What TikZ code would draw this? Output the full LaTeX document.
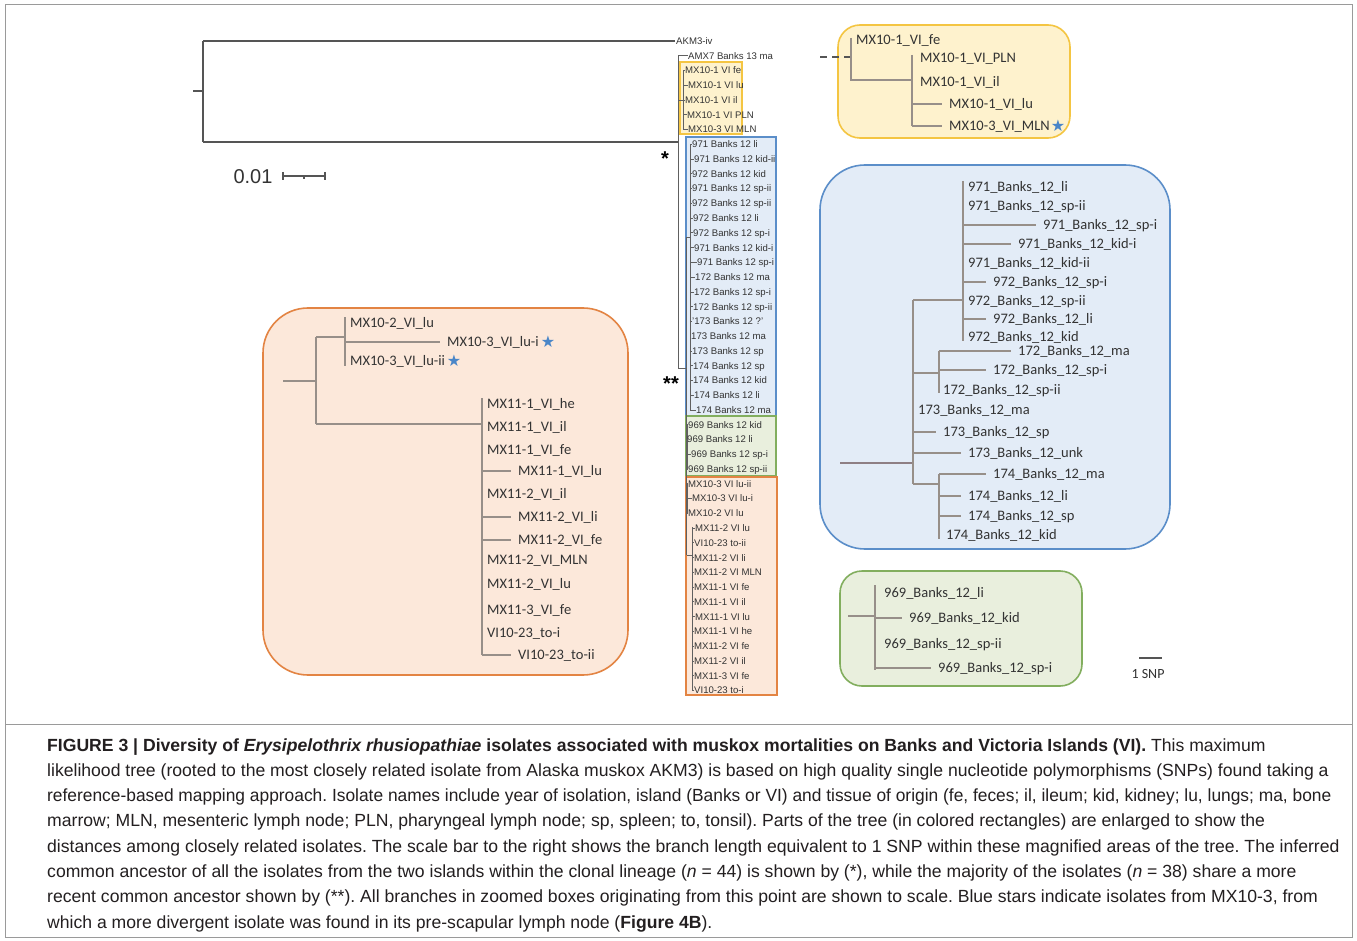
\documentclass[tikz,border=0pt]{standalone}
\usepackage{fontspec}
\setmainfont{Liberation Sans}
\newfontfamily\calib{Carlito}
\newfontfamily\djv{DejaVu Sans}
\definecolor{labC}{HTML}{333333}
\definecolor{capC}{HTML}{231F20}
\definecolor{mainC}{HTML}{555555}
\definecolor{cenC}{HTML}{606060}
\definecolor{zC}{HTML}{978F89}
\definecolor{rootC}{HTML}{8E7F84}
\definecolor{starC}{HTML}{4A86C8}
\definecolor{yelF}{HTML}{FEF2CD}
\definecolor{yelD}{HTML}{F4C542}
\definecolor{bluF}{HTML}{E3ECF7}
\definecolor{bluD}{HTML}{5B8EC9}
\definecolor{orF}{HTML}{FCE8DA}
\definecolor{orD}{HTML}{E38443}
\definecolor{grF}{HTML}{E9EFDD}
\definecolor{grD}{HTML}{82AE5E}
\definecolor{frameC}{HTML}{9A9A9A}
\frenchspacing
\begin{document}
\begin{tikzpicture}[x=1pt,y=-1pt,
  mtree/.style={draw=mainC, line width=1.1pt},
  ctree/.style={draw=cenC, line width=0.8pt},
  ztree/.style={draw=zC, line width=1.3pt},
  zlab/.style={font=\calib\fontsize{14.5}{14.5}\selectfont, text=labC, anchor=base west, inner sep=0pt, yshift=-4.6pt},
  clab/.style={font=\fontsize{9.6}{9.6}\selectfont, text=labC, anchor=base west, inner sep=0pt, yshift=-3.4pt},
  starn/.style={font=\djv\fontsize{16}{16}\selectfont, text=starC, inner sep=0pt},
  caplin/.style={font=\fontsize{17.6}{17.6}\selectfont, text=capC, anchor=base west, inner sep=0pt},
  zbox/.style={rounded corners=#1, line width=1.6pt},
  cbox/.style={line width=1.3pt}
]
\useasboundingbox (0,0) rectangle (1357,941);
\fill[white] (0,0) rectangle (1357,941);
\draw[frameC, line width=1pt] (5,5) rectangle (1352,937);

% ---------------- main tree ----------------
\coordinate (r0) at (193,91);
\coordinate (r) at (203,91);
\coordinate (rA) at (203,41);
\coordinate (rB) at (203,142);
\coordinate (akm) at (675,41);
\coordinate (st) at (678,142);
\draw[mtree] (r0) -- (r);
\draw[mtree] (rA) -- (rB);
\draw[mtree] (rA) -- (akm);
\draw[mtree] (rB) -- (st);
\node[clab] (c0) at (676,41) {AKM3-iv};
\node[font=\bfseries\fontsize{20}{20}\selectfont, anchor=base, inner sep=0pt] (ast1) at (665,166) {*};
\node[font=\bfseries\fontsize{20}{20}\selectfont, anchor=base, inner sep=0pt] (ast2) at (671,390) {**};

% scale bar 0.01
\node[font=\fontsize{20}{20}\selectfont, anchor=base, inner sep=0pt, text=labC] (s001) at (253,183.5) {0.01};
\coordinate (sbL) at (283,176);
\coordinate (sbR) at (325,176);
\coordinate (sbM) at (304,176);
\draw[mtree] (sbL) -- (sbR);
\draw[mtree] ([yshift=4pt]sbL) -- ([yshift=-4pt]sbL);
\draw[mtree] ([yshift=4pt]sbR) -- ([yshift=-4pt]sbR);
\draw[mtree] (sbM) -- ([yshift=-3pt]sbM);

% ---------------- central column boxes ----------------
\draw[cbox, fill=yelF, draw=yelD] (680,62) rectangle (742,134);
\draw[cbox, fill=bluF, draw=bluD] (686,137) rectangle (776,416);
\draw[cbox, fill=grF, draw=grD] (686,416) rectangle (776,476);
\draw[cbox, fill=orF, draw=orD] (686,477) rectangle (777,695);

% central tree internal lines
\coordinate (cT) at (678,56);
\coordinate (cS) at (678,368);
\coordinate (cY) at (678,100);
\coordinate (cY2) at (683,100);
\coordinate (cYt) at (683,70.5);
\coordinate (cYb) at (683,129.5);
\coordinate (cSS) at (686.5,368);
\coordinate (cSt) at (686.5,237);
\coordinate (cSb) at (686.5,555);
\coordinate (cBj) at (690,237);
\coordinate (cBt) at (690,144);
\coordinate (cBb) at (690,410);
\coordinate (cGt) at (687,424);
\coordinate (cGb) at (687,469);
\coordinate (cOt) at (687,483);
\coordinate (cOb) at (687,513);
\coordinate (cMj) at (692,555);
\coordinate (cMt) at (692,527);
\coordinate (cMb) at (692,690);
\draw[ctree] (cT) -- (cS);
\draw[ctree] (cY) -- (cY2);
\draw[ctree] (cYt) -- (cYb);
\draw[ctree] (cS) -- (cSS);
\draw[ctree] (cSt) -- (cSb);
\draw[ctree] (cSt) -- (cBj);
\draw[ctree] (cBt) -- (cBb);
\draw[ctree] (cGt) -- (cGb);
\draw[ctree] (cOt) -- (cOb);
\draw[ctree] (cSb) -- (cMj);
\draw[ctree] (cMt) -- (cMb);

\foreach \i/\t/\vx/\lx in {
  1/AMX7 Banks 13 ma/678/688,
  2/MX10-1 VI fe/683/685, 3/MX10-1 VI lu/683/688, 4/MX10-1 VI il/683/685,
  5/MX10-1 VI PLN/683/687, 6/MX10-3 VI MLN/683/688,
  7/971 Banks 12 li/690/692, 8/971 Banks 12 kid-ii/690/694, 9/972 Banks 12 kid/690/692,
  10/971 Banks 12 sp-ii/690/692, 11/972 Banks 12 sp-ii/690/692, 12/972 Banks 12 li/690/693,
  13/972 Banks 12 sp-i/690/693, 14/971 Banks 12 kid-i/690/694, 15/971 Banks 12 sp-i/690/697,
  16/172 Banks 12 ma/690/695, 17/172 Banks 12 sp-i/690/694, 18/172 Banks 12 sp-ii/690/693,
  19/'173 Banks 12 ?'/690/692, 20/173 Banks 12 ma/690/691, 21/173 Banks 12 sp/690/692,
  22/174 Banks 12 sp/690/693, 23/174 Banks 12 kid/690/693, 24/174 Banks 12 li/690/694,
  25/174 Banks 12 ma/690/696,
  26/969 Banks 12 kid/687/688, 27/969 Banks 12 li/687/687, 28/969 Banks 12 sp-i/687/691,
  29/969 Banks 12 sp-ii/687/688,
  30/MX10-3 VI lu-ii/687/688, 31/MX10-3 VI lu-i/687/692, 32/MX10-2 VI lu/687/688,
  33/MX11-2 VI lu/692/695, 34/VI10-23 to-ii/692/694, 35/MX11-2 VI li/692/694,
  36/MX11-2 VI MLN/692/694, 37/MX11-1 VI fe/692/694, 38/MX11-1 VI il/692/694,
  39/MX11-1 VI lu/692/695, 40/MX11-1 VI he/692/694, 41/MX11-2 VI fe/692/694,
  42/MX11-2 VI il/692/694, 43/MX11-3 VI fe/692/694, 44/VI10-23 to-i/692/694} {
  \pgfmathsetmacro\yy{41+14.76*\i}
  \coordinate (cv\i) at (\vx,\yy);
  \node[clab] (c\i) at (\lx,\yy) {\t};
  \draw[ctree] (cv\i) -- (c\i.west |- cv\i);
}

% ---------------- yellow zoom box ----------------
\draw[zbox=22pt, fill=yelF, draw=yelD] (838,25) rectangle (1070,138);
\coordinate (yd0) at (820,57);
\coordinate (yd1) at (851,57);
\coordinate (yA) at (851,38);
\coordinate (yB) at (851,80);
\coordinate (yC) at (912,80);
\coordinate (yCt) at (912,55);
\coordinate (yCb) at (912,126);
\draw[draw=mainC, line width=1.4pt, dash pattern=on 7pt off 5pt] (yd0) -- (yd1);
\draw[ztree] (yA) -- (yB) -- (yC);
\draw[ztree] (yCt) -- (yCb);
\foreach \t/\vx/\lx/\yy/\ln [count=\k] in {
  MX10-1\_VI\_fe/851/856/40/0, MX10-1\_VI\_PLN/912/920/58/0, MX10-1\_VI\_il/912/920/82/0,
  MX10-1\_VI\_lu/912/949/104/1, MX10-3\_VI\_MLN/912/949/126/1} {
  \coordinate (yv\k) at (\vx,\yy);
  \coordinate (ye\k) at (\lx-7,\yy);
  \node[zlab] (yl\k) at (\lx,\yy) {\t};
  \ifnum\ln=1 \draw[ztree] (yv\k) -- (ye\k); \fi
}
\node[starn] (ys) at (1058,126) {★};

% ---------------- blue zoom box ----------------
\draw[zbox=45pt, fill=bluF, draw=bluD] (820,165) rectangle (1170,549);
\coordinate (bR0) at (840,463);
\coordinate (bR) at (913,463);
\coordinate (bTop) at (913,300);
\coordinate (bBot) at (913,484);
\coordinate (b97) at (963,300);
\coordinate (b97t) at (963,181);
\coordinate (b97b) at (963,341);
\coordinate (b172) at (939,373);
\coordinate (b172a) at (913,373);
\coordinate (b172t) at (939,351);
\coordinate (b172b) at (939,393);
\coordinate (b174) at (939,484);
\coordinate (b174b) at (939,539);
\coordinate (b174t) at (939,474);
\draw[draw=rootC, line width=1.4pt] (bR0) -- (bR);
\draw[ztree] (bTop) -- (bBot);
\draw[ztree] (bTop) -- (b97);
\draw[ztree] (b97t) -- (b97b);
\draw[ztree] (b172a) -- (b172);
\draw[ztree] (b172t) -- (b172b);
\draw[ztree] (bBot) -- (b174);
\draw[ztree] (b174t) -- (b174b);
\foreach \t/\vx/\lx/\yy/\ln [count=\k] in {
  971\_Banks\_12\_li/963/968/187/0, 971\_Banks\_12\_sp-ii/963/968/206/0,
  971\_Banks\_12\_sp-i/963/1043/225/1, 971\_Banks\_12\_kid-i/963/1018/244/1,
  971\_Banks\_12\_kid-ii/963/968/263/0, 972\_Banks\_12\_sp-i/963/993/282/1,
  972\_Banks\_12\_sp-ii/963/968/301/0, 972\_Banks\_12\_li/963/993/319/1,
  972\_Banks\_12\_kid/963/968/337/0, 172\_Banks\_12\_ma/939/1018/351/1,
  172\_Banks\_12\_sp-i/939/993/370/1, 172\_Banks\_12\_sp-ii/939/943/390/0,
  173\_Banks\_12\_ma/913/918/410/0, 173\_Banks\_12\_sp/913/943/432/1,
  173\_Banks\_12\_unk/913/968/453/1, 174\_Banks\_12\_ma/939/993/474/1,
  174\_Banks\_12\_li/939/968/496/1, 174\_Banks\_12\_sp/939/968/516/1,
  174\_Banks\_12\_kid/939/946/535/0} {
  \coordinate (bv\k) at (\vx,\yy);
  \coordinate (be\k) at (\lx-7,\yy);
  \node[zlab] (bl\k) at (\lx,\yy) {\t};
  \ifnum\ln=1 \draw[ztree] (bv\k) -- (be\k); \fi
}

% ---------------- orange zoom box ----------------
\draw[zbox=45pt, fill=orF, draw=orD] (263,308) rectangle (628,675);
\coordinate (oR0) at (283,381);
\coordinate (oR) at (316,381);
\coordinate (oT) at (316,337);
\coordinate (oB) at (316,424);
\coordinate (o10) at (345,337);
\coordinate (o10t) at (345,317);
\coordinate (o10b) at (345,366);
\coordinate (o11) at (482,424);
\coordinate (o11t) at (482,398);
\coordinate (o11b) at (482,655);
\draw[ztree] (oR0) -- (oR);
\draw[ztree] (oT) -- (oB);
\draw[ztree] (oT) -- (o10);
\draw[ztree] (o10t) -- (o10b);
\draw[ztree] (oB) -- (o11);
\draw[ztree] (o11t) -- (o11b);
\foreach \t/\vx/\lx/\yy/\ln [count=\k] in {
  MX10-2\_VI\_lu/345/350/323/0, MX10-3\_VI\_lu-i/345/447/342/1, MX10-3\_VI\_lu-ii/345/350/361/0,
  MX11-1\_VI\_he/482/487/404/0, MX11-1\_VI\_il/482/487/427/0, MX11-1\_VI\_fe/482/487/450/0,
  MX11-1\_VI\_lu/482/518/471/1, MX11-2\_VI\_il/482/487/494/0, MX11-2\_VI\_li/482/518/517/1,
  MX11-2\_VI\_fe/482/518/540/1, MX11-2\_VI\_MLN/482/487/560/0, MX11-2\_VI\_lu/482/487/584/0,
  MX11-3\_VI\_fe/482/487/610/0, VI10-23\_to-i/482/487/633/0, VI10-23\_to-ii/482/518/655/1} {
  \coordinate (ov\k) at (\vx,\yy);
  \coordinate (oe\k) at (\lx-7,\yy);
  \node[zlab] (ol\k) at (\lx,\yy) {\t};
  \ifnum\ln=1 \draw[ztree] (ov\k) -- (oe\k); \fi
}
\node[starn] (os1) at (548,342) {★};
\node[starn] (os2) at (454,361) {★};

% ---------------- green zoom box ----------------
\draw[zbox=22pt, fill=grF, draw=grD] (840,571) rectangle (1082,686);
\coordinate (gR0) at (848,616);
\coordinate (gR) at (875,616);
\coordinate (gT) at (875,585);
\coordinate (gB) at (875,670);
\draw[ztree] (gR0) -- (gR);
\draw[ztree] (gT) -- (gB);
\foreach \t/\vx/\lx/\yy/\ln [count=\k] in {
  969\_Banks\_12\_li/875/884/593/0, 969\_Banks\_12\_kid/875/909/618/1,
  969\_Banks\_12\_sp-ii/875/884/644/0, 969\_Banks\_12\_sp-i/875/938/668/1} {
  \coordinate (gv\k) at (\vx,\yy);
  \coordinate (ge\k) at (\lx-7,\yy);
  \node[zlab] (gl\k) at (\lx,\yy) {\t};
  \ifnum\ln=1 \draw[ztree] (gv\k) -- (ge\k); \fi
}

% 1 SNP scale
\coordinate (snpL) at (1139,658);
\coordinate (snpR) at (1162,658);
\draw[draw=mainC, line width=1.5pt] (snpL) -- (snpR);
\node[font=\calib\fontsize{14}{14}\selectfont, text=labC, inner sep=0pt] (snp) at (1148,674) {1 SNP};

% ---------------- caption ----------------
\draw[frameC, line width=1pt] (5,724) -- (1352,724);
\node[caplin] (cap1) at (47,751) {\textbf{FIGURE 3 | Diversity of \textit{Erysipelothrix rhusiopathiae} isolates associated with muskox mortalities on Banks and Victoria Islands (VI).} This maximum};
\node[caplin] (cap2) at (47,776.3) {likelihood tree (rooted to the most closely related isolate from Alaska muskox AKM3) is based on high quality single nucleotide polymorphisms (SNPs) found taking a};
\node[caplin] (cap3) at (47,801.6) {\scalebox{0.987}[1]{reference-based mapping approach. Isolate names include year of isolation, island (Banks or VI) and tissue of origin (fe, feces; il, ileum; kid, kidney; lu, lungs; ma, bone}};
\node[caplin] (cap4) at (47,826.9) {marrow; MLN, mesenteric lymph node; PLN, pharyngeal lymph node; sp, spleen; to, tonsil). Parts of the tree (in colored rectangles) are enlarged to show the};
\node[caplin] (cap5) at (47,852.2) {distances among closely related isolates. The scale bar to the right shows the branch length equivalent to 1 SNP within these magnified areas of the tree. The inferred};
\node[caplin] (cap6) at (47,877.5) {common ancestor of all the isolates from the two islands within the clonal lineage (\textit{n} = 44) is shown by (*), while the majority of the isolates (\textit{n} = 38) share a more};
\node[caplin] (cap7) at (47,902.8) {recent common ancestor shown by (**). All branches in zoomed boxes originating from this point are shown to scale. Blue stars indicate isolates from MX10-3, from};
\node[caplin] (cap8) at (47,928.1) {which a more divergent isolate was found in its pre-scapular lymph node (\textbf{Figure 4B}).};
\end{tikzpicture}
\end{document}
